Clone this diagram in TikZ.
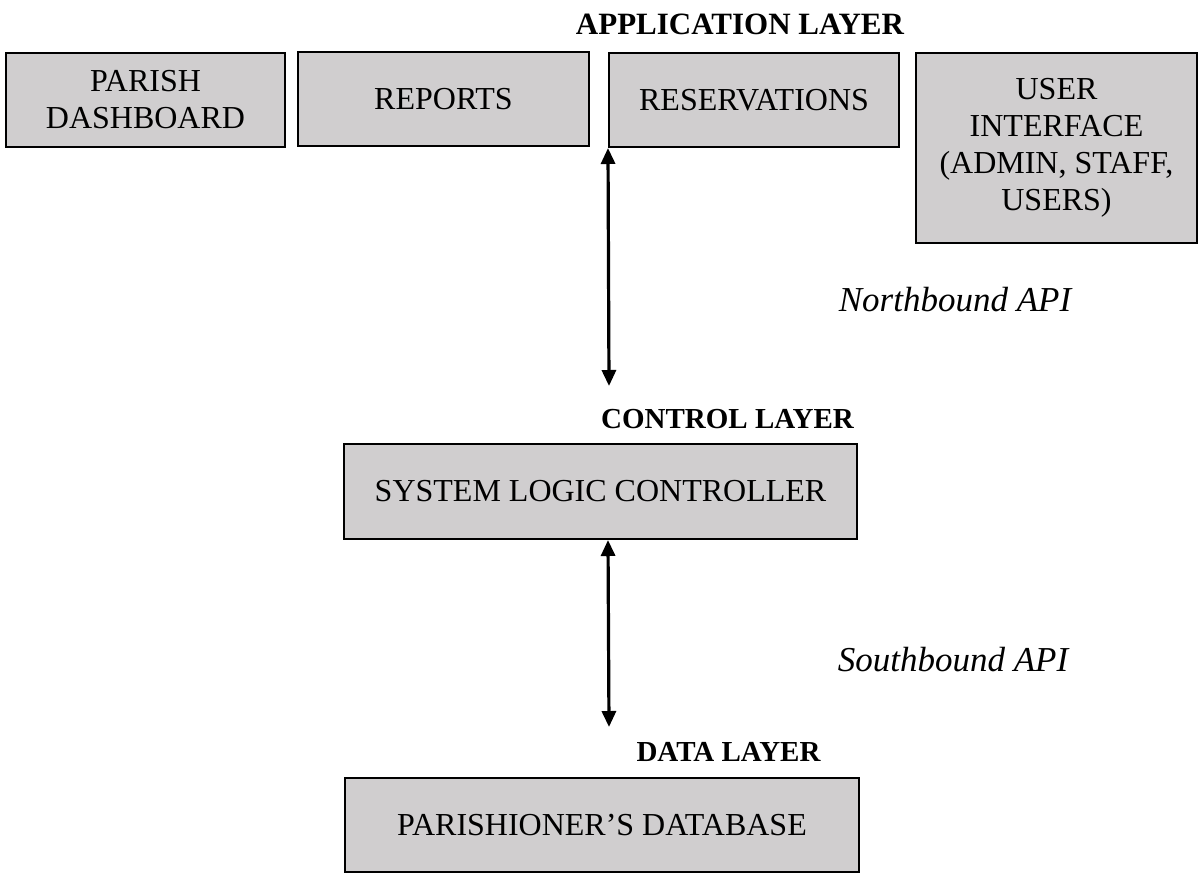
\documentclass[tikz,border=0pt]{standalone}
\usepackage{fontspec}
\setmainfont{Liberation Serif}
\usetikzlibrary{arrows.meta}
\definecolor{boxgray}{RGB}{208,206,207}
\begin{document}
\begin{tikzpicture}[x=1pt,y=-1pt,
  box/.style={draw=black, line width=2pt, fill=boxgray, inner sep=0pt,
    align=center, font=\fontsize{32}{37}\selectfont},
  layerlabel/.style={inner sep=0pt, font=\fontsize{29}{33}\selectfont\bfseries},
  apilabel/.style={inner sep=0pt, font=\fontsize{35}{40}\selectfont\itshape},
  biarrow/.style={line width=3.2pt, {Triangle[length=16pt,width=14pt]}-{Triangle[length=16pt,width=14pt]}}]
\useasboundingbox (0,0) rectangle (1199,873);

% application layer
\node[layerlabel, font=\fontsize{31}{35}\selectfont\bfseries] (applabel) at (740,24) {APPLICATION LAYER};
\node[box, minimum width=279pt, minimum height=94pt] (parish) at (145.5,100) {PARISH\\DASHBOARD};
\node[box, minimum width=291pt, minimum height=94pt] (reports) at (443.5,99) {REPORTS};
\node[box, minimum width=290pt, minimum height=94pt] (reserv) at (754,100) {RESERVATIONS};
\node[box, minimum width=281pt, minimum height=190pt] (ui) at (1056.5,148) {USER\\INTERFACE\\(ADMIN, STAFF,\\USERS)};

% control layer
\node[layerlabel] (ctllabel) at (727.5,419) {CONTROL LAYER};
\node[box, minimum width=513pt, minimum height=95pt] (ctl) at (600.5,491.5) {SYSTEM LOGIC CONTROLLER};

% data layer
\node[layerlabel] (datalabel) at (728.5,752) {DATA LAYER};
\node[box, minimum width=514pt, minimum height=94pt] (db) at (602,825) {PARISHIONER’S DATABASE};

% interfaces between the layers
\node[apilabel] (north) at (955,300) {Northbound API};
\node[apilabel] (south) at (953,660) {Southbound API};

\coordinate (northend) at (609,386);
\coordinate (southend) at (609,727);
\draw[biarrow] (reserv.south west) -- (northend);
\draw[biarrow] (ctl.south -| reserv.south west) -- (southend);
\end{tikzpicture}
\end{document}
